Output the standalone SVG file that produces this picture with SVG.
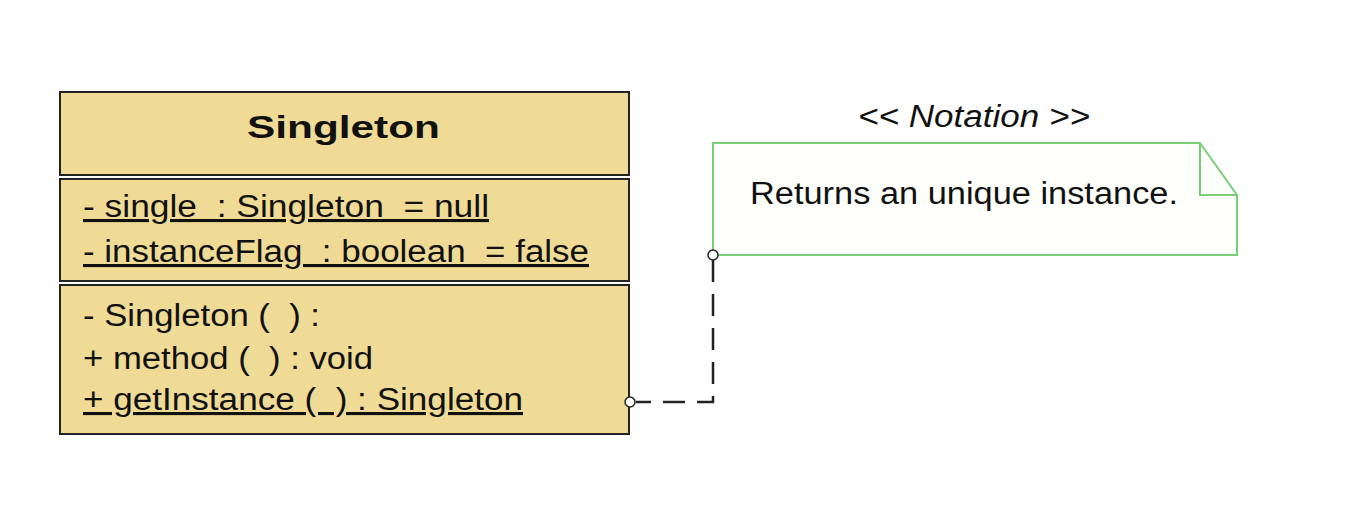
<svg xmlns="http://www.w3.org/2000/svg" width="1346" height="506" viewBox="0 0 1346 506">
<style>
.box{fill:#efdb95;stroke:#222;stroke-width:2}
.t{font-family:"Liberation Sans",Arial,sans-serif;font-size:31px;fill:#111}
.u{text-decoration:underline}
.note{fill:#fffffc;stroke:#77d077;stroke-width:2}
.conn{fill:none;stroke:#222;stroke-width:2.5;stroke-dasharray:22 12}
.end{fill:#fff;stroke:#222;stroke-width:1.5}
</style>
<rect width="1346" height="506" fill="#fff"/>
<g id="singleton">
<rect class="box" x="60" y="92" width="569" height="83"/>
<rect class="box" x="60" y="179" width="569" height="102"/>
<rect class="box" x="60" y="285" width="569" height="149"/>
<text class="t" x="247" y="138" font-weight="bold" font-size="41" textLength="193" lengthAdjust="spacingAndGlyphs">Singleton</text>
<text class="t u" x="83" y="217" xml:space="preserve" textLength="406" lengthAdjust="spacingAndGlyphs">- single  : Singleton  = null</text>
<text class="t u" x="83" y="262" xml:space="preserve" textLength="506" lengthAdjust="spacingAndGlyphs">- instanceFlag  : boolean  = false</text>
<text class="t" x="83" y="326" xml:space="preserve" textLength="237" lengthAdjust="spacingAndGlyphs">- Singleton (  ) :</text>
<text class="t" x="83" y="369" xml:space="preserve" textLength="290" lengthAdjust="spacingAndGlyphs">+ method (  ) : void</text>
<text class="t u" x="83" y="410" xml:space="preserve" textLength="440" lengthAdjust="spacingAndGlyphs">+ getInstance (  ) : Singleton</text>
</g>
<g id="note">
<text class="t" x="858" y="127" font-style="italic" textLength="232" lengthAdjust="spacingAndGlyphs">&lt;&lt; Notation &gt;&gt;</text>
<path class="note" d="M713 143 H1200 L1237 195 V255 H713 Z"/>
<path class="note" d="M1200 143 V195 H1237" style="fill:none"/>
<text class="t" x="750" y="204" textLength="428" lengthAdjust="spacingAndGlyphs">Returns an unique instance.</text>
</g>
<g id="connectors">
<path class="conn" d="M713 260 V402 H636"/>
<circle class="end" cx="713" cy="255" r="5"/>
<circle class="end" cx="630" cy="402" r="5"/>
</g>
</svg>
